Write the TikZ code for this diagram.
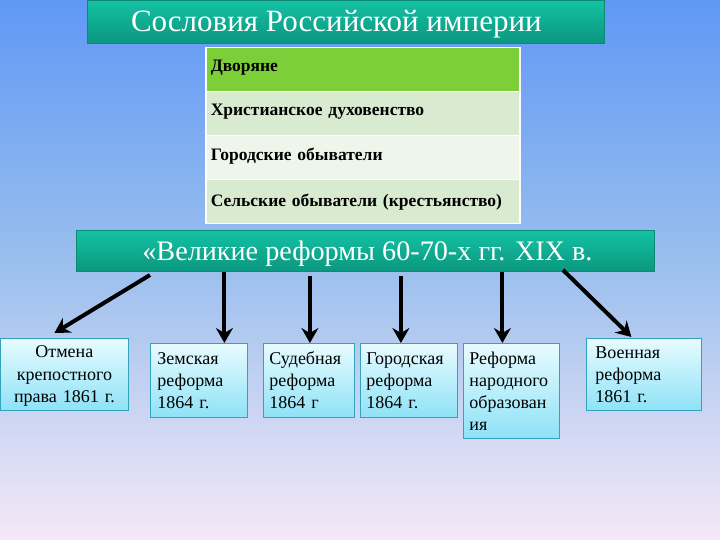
\documentclass[tikz,border=0pt]{standalone}
\usepackage{fontspec}
\setmainfont{Liberation Serif}
\usetikzlibrary{arrows.meta}
\definecolor{bgtop}{HTML}{6098F6}
\definecolor{bgmid}{HTML}{9CC0EE}
\definecolor{bgbot}{HTML}{F6E8F7}
\definecolor{barTop}{HTML}{14C2A4}
\definecolor{barBot}{HTML}{0B977F}
\definecolor{barEdge}{HTML}{0E8A74}
\definecolor{rowA}{HTML}{7DCF3A}
\definecolor{rowB}{HTML}{D8EACF}
\definecolor{rowC}{HTML}{EEF5EA}
\definecolor{boxTop}{HTML}{E8FBFF}
\definecolor{boxBot}{HTML}{8EE2F6}
\definecolor{boxEdge}{HTML}{33A3BC}
\begin{document}
\begin{tikzpicture}[x=1pt,y=-1pt,
  bar/.style={draw=barEdge, line width=0.8pt, top color=barTop, bottom color=barBot, text=white, inner sep=0pt, anchor=north west},
  row/.style={draw=white, line width=1.5pt, minimum width=314pt, minimum height=44pt, text width=304pt, inner sep=0pt, anchor=north west, font=\bfseries\fontsize{17.5}{19}\selectfont, align=left},
  rbox/.style={draw=boxEdge, line width=0.8pt, top color=boxTop, bottom color=boxBot, anchor=north west, inner sep=0pt, font=\fontsize{18}{22}\selectfont, text=black},
  arr/.style={line width=4pt, -{Stealth[length=15pt,width=17pt,inset=5pt]}}
]
\shade[top color=bgtop, bottom color=bgbot, middle color=bgmid] (0,0) rectangle (720,540);
\useasboundingbox (0,0) rectangle (720,540);

\node[bar, minimum width=517pt, minimum height=43pt] (title) at (87,0) {};
\node[text=white, font=\fontsize{31}{35}\selectfont] at ([xshift=-9.5pt,yshift=-2pt]title.center) {Сословия Российской империи};

\node[row, fill=rowA] (r1) at (205,47) {\raisebox{8pt}{Дворяне}};
\node[row, fill=rowB] (r2) at (205,91) {\raisebox{8pt}{Христианское духовенство}};
\node[row, fill=rowC] (r3) at (205,135) {\raisebox{8pt}{Городские обыватели}};
\node[row, fill=rowB] (r4) at (205,179) {\raisebox{4pt}{Сельские обыватели (крестьянство)}};

\node[bar, minimum width=578pt, minimum height=41pt] (reforms) at (76,230) {};
\node[text=white, font=\fontsize{28.2}{32}\selectfont] at ([xshift=2pt,yshift=-3pt]reforms.center) {«Великие реформы 60-70-х гг. XIX в.};

\node[rbox, minimum width=128pt, minimum height=72pt, text width=128pt, align=center, font=\fontsize{18}{22.5}\selectfont] (b1) at (0,338) {\rule{0pt}{16pt}Отмена\\крепостного\\права 1861 г.};
\node[rbox, minimum width=97pt, minimum height=74pt, text width=83pt, align=left] (b2) at (150,343) {Земская\\реформа\\1864 г.};
\node[rbox, minimum width=91pt, minimum height=74pt, text width=79pt, align=left] (b3) at (263,343) {Судебная\\реформа\\1864 г};
\node[rbox, minimum width=97pt, minimum height=74pt, text width=85pt, align=left] (b4) at (360,343) {Городская\\реформа\\1864 г.};
\node[rbox, minimum width=96pt, minimum height=95pt, text width=84pt, align=left] (b5) at (463,343) {Реформа\\народного\\образован\\ия};
\node[rbox, minimum width=115pt, minimum height=72pt, text width=97pt, align=left] (b6) at (586,338) {Военная\\реформа\\1861 г.};

\coordinate (s1) at (150,275);
\draw[arr] (s1) -- ([xshift=-10pt,yshift=5pt]b1.north);
\draw[arr] ([xshift=25.5pt]b2.north |- reforms.south) -- ([xshift=25.5pt]b2.north);
\draw[arr] ([xshift=1pt,yshift=-4pt]b3.north |- reforms.south) -- ([xshift=1pt]b3.north);
\draw[arr] ([xshift=-8pt,yshift=-4pt]b4.north |- reforms.south) -- ([xshift=-8pt]b4.north);
\draw[arr] ([xshift=-9pt]b5.north |- reforms.south) -- ([xshift=-9pt]b5.north);
\coordinate (s6) at (563,270);
\draw[arr] (s6) -- ([xshift=-12.5pt,yshift=1pt]b6.north);
\end{tikzpicture}
\end{document}
